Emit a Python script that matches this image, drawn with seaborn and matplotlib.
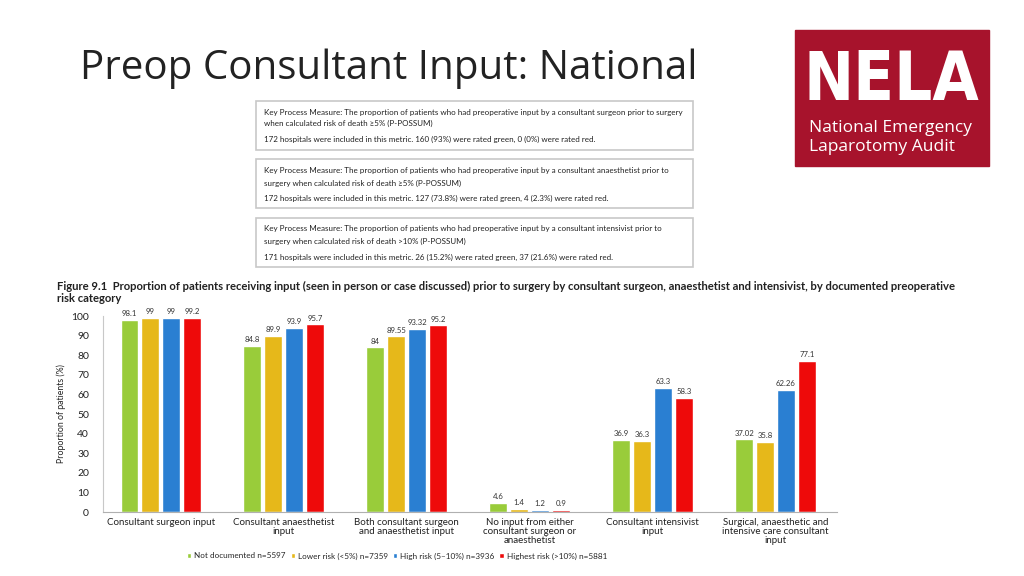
import pandas as pd
import matplotlib.pyplot as plt
import seaborn as sns
from matplotlib.patches import Rectangle

# Chart data
measures = [
    "Consultant surgeon input",
    "Consultant anaesthetist\ninput",
    "Both consultant surgeon\nand anaesthetist input",
    "No input from either\nconsultant surgeon or\nanaesthetist",
    "Consultant intensivist\ninput",
    "Surgical, anaesthetic and\nintensive care consultant\ninput",
]
risk_groups = [
    "Not documented n=5597",
    "Lower risk (<5%) n=7359",
    "High risk (5\u201310%) n=3936",
    "Highest risk (>10%) n=5881",
]
not_documented = [98.1, 84.8, 84, 4.6, 36.9, 37.02]
lower_risk = [99, 89.9, 89.55, 1.4, 36.3, 35.8]
high_risk = [99, 93.9, 93.32, 1.2, 63.3, 62.26]
highest_risk = [99.2, 95.7, 95.2, 0.9, 58.3, 77.1]
y_ticks = [0, 10, 20, 30, 40, 50, 60, 70, 80, 90, 100]

colors = ["#99cc3a", "#e6b81a", "#2a7fd2", "#ee0a0a"]

rows = []
for risk, vals in zip(risk_groups, [not_documented, lower_risk, high_risk, highest_risk]):
    for m, v in zip(measures, vals):
        rows.append({"measure": m, "risk": risk, "value": v})
df = pd.DataFrame(rows)

sns.set_style("white")
plt.rcParams["font.family"] = ["Lato", "DejaVu Sans"]

W, H = 1024, 576
fig = plt.figure(figsize=(W / 100, H / 100), dpi=100)


def fx(px):
    return px / W


def fy(py):
    return 1 - py / H


# Slide title
fig.text(fx(80), fy(69), "Preop Consultant Input: National", fontsize=29,
         family=["Open Sans", "DejaVu Sans"], color="#222222", va="center", ha="left")

# NELA logo block
fig.patches.append(Rectangle((fx(795), fy(166)), fx(989) - fx(795), fy(30) - fy(166),
                             transform=fig.transFigure, color="#a7132c", zorder=0))
fig.text(fx(891), fy(81), "NELA", fontsize=48, color="white", ha="center", va="center",
         family=["DejaVu Sans"], stretch="condensed", weight="bold")
fig.text(fx(809), fy(128), "National Emergency", fontsize=12.5, color="white",
         ha="left", va="center", family=["Open Sans", "DejaVu Sans"])
fig.text(fx(809), fy(147), "Laparotomy Audit", fontsize=12.5, color="white",
         ha="left", va="center", family=["Open Sans", "DejaVu Sans"])

# Key process measure boxes
boxes = [
    (101, 150, [
        "Key Process Measure: The proportion of patients who had preoperative input by a consultant surgeon prior to surgery",
        "when calculated risk of death \u22655% (P-POSSUM)",
        "172 hospitals were included in this metric. 160 (93%) were rated green, 0 (0%) were rated red.",
    ], [112, 123, 139]),
    (159, 208, [
        "Key Process Measure: The proportion of patients who had preoperative input by a consultant anaesthetist prior to",
        "surgery when calculated risk of death \u22655% (P-POSSUM)",
        "172 hospitals were included in this metric. 127 (73.8%) were rated green, 4 (2.3%) were rated red.",
    ], [171, 183, 198]),
    (218, 267, [
        "Key Process Measure: The proportion of patients who had preoperative input by a consultant intensivist prior to",
        "surgery when calculated risk of death >10% (P-POSSUM)",
        "171 hospitals were included in this metric. 26 (15.2%) were rated green, 37 (21.6%) were rated red.",
    ], [229, 241, 257]),
]
for top, bottom, lines, ys in boxes:
    fig.patches.append(Rectangle((fx(256), fy(bottom)), fx(693) - fx(256), fy(top) - fy(bottom),
                                 transform=fig.transFigure, fill=False, edgecolor="#c8c8c8", lw=1.2))
    for line, yy in zip(lines, ys):
        fig.text(fx(264), fy(yy), line, fontsize=5.8, color="#222222", va="center")

# Figure caption
fig.text(fx(57), fy(286), "Figure 9.1  Proportion of patients receiving input (seen in person or case discussed) "
         "prior to surgery by consultant surgeon, anaesthetist and intensivist, by documented preoperative",
         fontsize=8.1, weight="bold", color="#222222", va="center")
fig.text(fx(57), fy(298), "risk category", fontsize=8.1, weight="bold", color="#222222", va="center")

# Bar chart
ax = fig.add_axes([fx(103), fy(512), fx(837) - fx(103), fy(316) - fy(512)])
sns.barplot(data=df, x="measure", y="value", hue="risk", palette=colors,
            width=0.68, gap=0.15, ax=ax, saturation=1)

for cont in ax.containers:
    ax.bar_label(cont, labels=[f"{v:g}" for v in cont.datavalues],
                 fontsize=5.6, color="#333333", padding=2)

ax.set_ylim(0, 100)
ax.set_xlim(-0.47, 5.5)
ax.set_yticks(y_ticks)
ax.tick_params(axis="y", length=0, labelsize=7.5, pad=10, colors="#222222")
ax.tick_params(axis="x", length=0, labelsize=7, pad=4, colors="#222222")
ax.set_xlabel("")
ax.set_ylabel("Proportion of patients (%)", fontsize=6.3, color="#222222", labelpad=4)
sns.despine(ax=ax)
ax.spines["left"].set_color("#c8c8c8")
ax.spines["bottom"].set_color("#b0b0b0")
for lbl in ax.get_xticklabels():
    lbl.set_linespacing(1.0)

ax.legend(loc="center", bbox_to_anchor=(fx(397), fy(556)), bbox_transform=fig.transFigure,
          ncol=4, frameon=False, fontsize=5.9, handlelength=0.5, handleheight=0.5,
          handletextpad=0.4, columnspacing=0.6)

fig.savefig("out.png", dpi=100)
